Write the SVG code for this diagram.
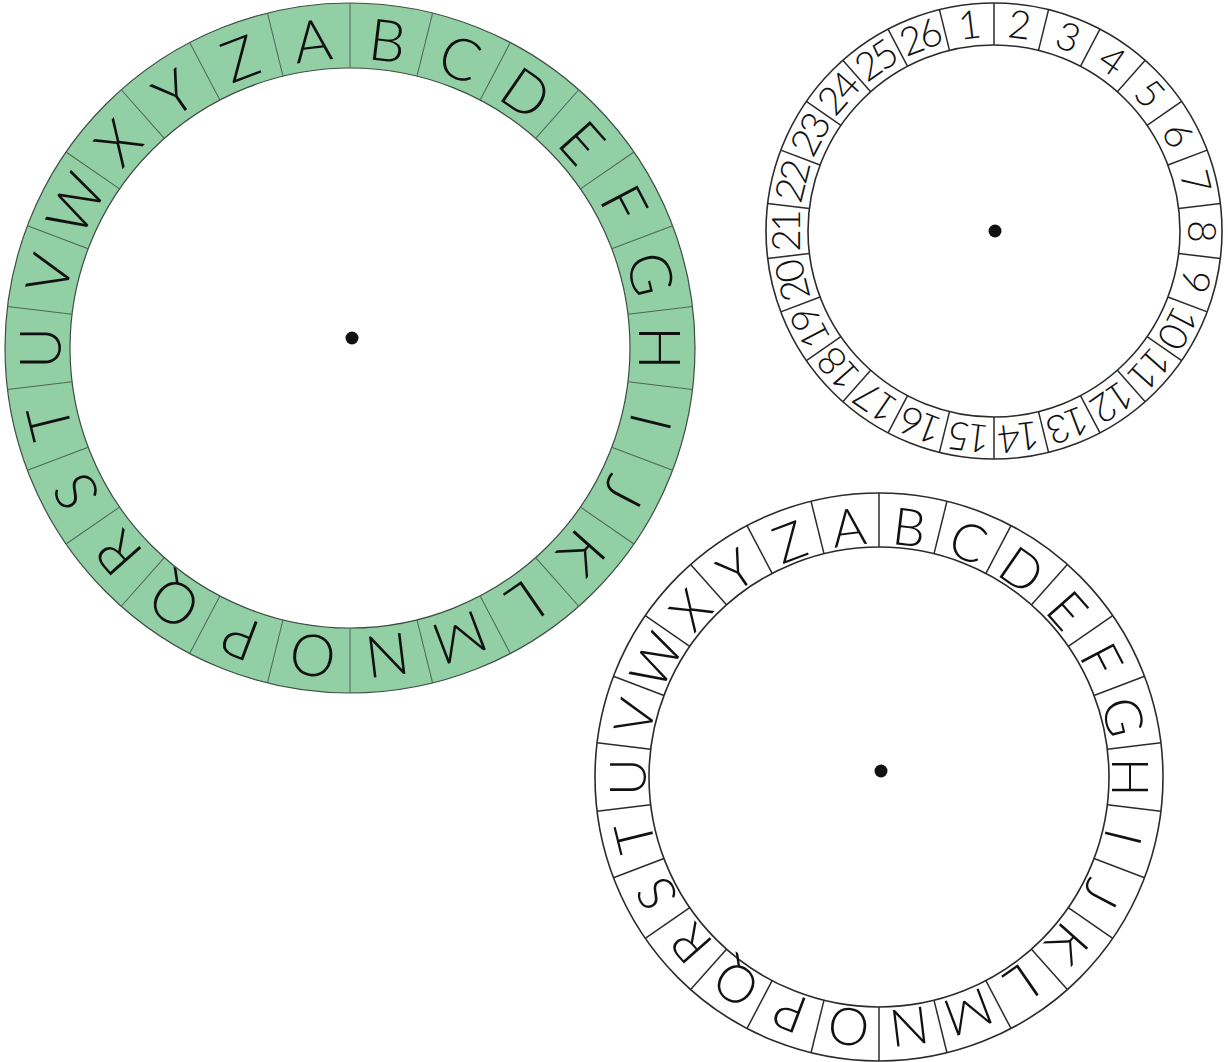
<svg xmlns="http://www.w3.org/2000/svg" xmlns:xlink="http://www.w3.org/1999/xlink" width="1228" height="1062" viewBox="0 0 1228 1062">
<style>
.gring{fill:#93cfa5;stroke:#3d4f43;stroke-width:1.2}
.ginner{fill:#ffffff;stroke:#3d4f43;stroke-width:1.2}
.gtick{stroke:#4d6656;stroke-width:1}
.wring{fill:#ffffff;stroke:#2b2b2b;stroke-width:1.6}
.wtick{stroke:#2b2b2b;stroke-width:1.5}
.lbl{font-family:Lato,"Open Sans","Noto Sans",sans-serif;font-weight:300;fill:#111111;text-anchor:middle}
.g{font-size:58px}
.b{font-size:52px}
.n{font-size:39px;letter-spacing:-3px}
.dot{fill:#111111}
</style>
<defs>
<line id="tg" class="gtick" x1="0" y1="-280" x2="0" y2="-345"/>
<line id="tb" class="wtick" x1="0" y1="-230" x2="0" y2="-284"/>
<line id="tn" class="wtick" x1="0" y1="-186" x2="0" y2="-228"/>
</defs>

<g id="green-wheel">
<g transform="translate(350,348)">
<circle class="gring" r="345"/>
<circle class="ginner" r="280"/>
<use xlink:href="#tg"/>
<use xlink:href="#tg" transform="rotate(13.846)"/>
<use xlink:href="#tg" transform="rotate(27.692)"/>
<use xlink:href="#tg" transform="rotate(41.538)"/>
<use xlink:href="#tg" transform="rotate(55.385)"/>
<use xlink:href="#tg" transform="rotate(69.231)"/>
<use xlink:href="#tg" transform="rotate(83.077)"/>
<use xlink:href="#tg" transform="rotate(96.923)"/>
<use xlink:href="#tg" transform="rotate(110.769)"/>
<use xlink:href="#tg" transform="rotate(124.615)"/>
<use xlink:href="#tg" transform="rotate(138.462)"/>
<use xlink:href="#tg" transform="rotate(152.308)"/>
<use xlink:href="#tg" transform="rotate(166.154)"/>
<use xlink:href="#tg" transform="rotate(180)"/>
<use xlink:href="#tg" transform="rotate(193.846)"/>
<use xlink:href="#tg" transform="rotate(207.692)"/>
<use xlink:href="#tg" transform="rotate(221.538)"/>
<use xlink:href="#tg" transform="rotate(235.385)"/>
<use xlink:href="#tg" transform="rotate(249.231)"/>
<use xlink:href="#tg" transform="rotate(263.077)"/>
<use xlink:href="#tg" transform="rotate(276.923)"/>
<use xlink:href="#tg" transform="rotate(290.769)"/>
<use xlink:href="#tg" transform="rotate(304.615)"/>
<use xlink:href="#tg" transform="rotate(318.462)"/>
<use xlink:href="#tg" transform="rotate(332.308)"/>
<use xlink:href="#tg" transform="rotate(346.154)"/>
<g class="lbl g">
<text y="-289" transform="rotate(-6.923)">A</text>
<text y="-289" transform="rotate(6.923)">B</text>
<text y="-289" transform="rotate(20.769)">C</text>
<text y="-289" transform="rotate(34.615)">D</text>
<text y="-289" transform="rotate(48.462)">E</text>
<text y="-289" transform="rotate(62.308)">F</text>
<text y="-289" transform="rotate(76.154)">G</text>
<text y="-289" transform="rotate(90)">H</text>
<text y="-289" transform="rotate(103.846)">I</text>
<text y="-289" transform="rotate(117.692)">J</text>
<text y="-289" transform="rotate(131.538)">K</text>
<text y="-289" transform="rotate(145.385)">L</text>
<text y="-289" transform="rotate(159.231)">M</text>
<text y="-289" transform="rotate(173.077)">N</text>
<text y="-289" transform="rotate(186.923)">O</text>
<text y="-289" transform="rotate(200.769)">P</text>
<text y="-289" transform="rotate(214.615)">Q</text>
<text y="-289" transform="rotate(228.462)">R</text>
<text y="-289" transform="rotate(242.308)">S</text>
<text y="-289" transform="rotate(256.154)">T</text>
<text y="-289" transform="rotate(270)">U</text>
<text y="-289" transform="rotate(283.846)">V</text>
<text y="-289" transform="rotate(297.692)">W</text>
<text y="-289" transform="rotate(311.538)">X</text>
<text y="-289" transform="rotate(325.385)">Y</text>
<text y="-289" transform="rotate(339.231)">Z</text>
</g>
</g>
<circle class="dot" cx="352" cy="338" r="6.5"/>
</g>

<g id="number-wheel">
<g transform="translate(994,231)">
<circle class="wring" r="228"/>
<circle class="wring" r="186"/>
<use xlink:href="#tn"/>
<use xlink:href="#tn" transform="rotate(13.846)"/>
<use xlink:href="#tn" transform="rotate(27.692)"/>
<use xlink:href="#tn" transform="rotate(41.538)"/>
<use xlink:href="#tn" transform="rotate(55.385)"/>
<use xlink:href="#tn" transform="rotate(69.231)"/>
<use xlink:href="#tn" transform="rotate(83.077)"/>
<use xlink:href="#tn" transform="rotate(96.923)"/>
<use xlink:href="#tn" transform="rotate(110.769)"/>
<use xlink:href="#tn" transform="rotate(124.615)"/>
<use xlink:href="#tn" transform="rotate(138.462)"/>
<use xlink:href="#tn" transform="rotate(152.308)"/>
<use xlink:href="#tn" transform="rotate(166.154)"/>
<use xlink:href="#tn" transform="rotate(180)"/>
<use xlink:href="#tn" transform="rotate(193.846)"/>
<use xlink:href="#tn" transform="rotate(207.692)"/>
<use xlink:href="#tn" transform="rotate(221.538)"/>
<use xlink:href="#tn" transform="rotate(235.385)"/>
<use xlink:href="#tn" transform="rotate(249.231)"/>
<use xlink:href="#tn" transform="rotate(263.077)"/>
<use xlink:href="#tn" transform="rotate(276.923)"/>
<use xlink:href="#tn" transform="rotate(290.769)"/>
<use xlink:href="#tn" transform="rotate(304.615)"/>
<use xlink:href="#tn" transform="rotate(318.462)"/>
<use xlink:href="#tn" transform="rotate(332.308)"/>
<use xlink:href="#tn" transform="rotate(346.154)"/>
<g class="lbl n">
<text x="-1" y="-194" transform="rotate(-6.923)">1</text>
<text x="-1" y="-194" transform="rotate(6.923)">2</text>
<text x="-1" y="-194" transform="rotate(20.769)">3</text>
<text x="-1" y="-194" transform="rotate(34.615)">4</text>
<text x="-1" y="-194" transform="rotate(48.462)">5</text>
<text x="-1" y="-194" transform="rotate(62.308)">6</text>
<text x="-1" y="-194" transform="rotate(76.154)">7</text>
<text x="-1" y="-194" transform="rotate(90)">8</text>
<text x="-1" y="-194" transform="rotate(103.846)">9</text>
<text x="-1" y="-194" transform="rotate(117.692)">10</text>
<text x="-1" y="-194" transform="rotate(131.538)">11</text>
<text x="-1" y="-194" transform="rotate(145.385)">12</text>
<text x="-1" y="-194" transform="rotate(159.231)">13</text>
<text x="-1" y="-194" transform="rotate(173.077)">14</text>
<text x="-1" y="-194" transform="rotate(186.923)">15</text>
<text x="-1" y="-194" transform="rotate(200.769)">16</text>
<text x="-1" y="-194" transform="rotate(214.615)">17</text>
<text x="-1" y="-194" transform="rotate(228.462)">18</text>
<text x="-1" y="-194" transform="rotate(242.308)">19</text>
<text x="-1" y="-194" transform="rotate(256.154)">20</text>
<text x="-1" y="-194" transform="rotate(270)">21</text>
<text x="-1" y="-194" transform="rotate(283.846)">22</text>
<text x="-1" y="-194" transform="rotate(297.692)">23</text>
<text x="-1" y="-194" transform="rotate(311.538)">24</text>
<text x="-1" y="-194" transform="rotate(325.385)">25</text>
<text x="-1" y="-194" transform="rotate(339.231)">26</text>
</g>
</g>
<circle class="dot" cx="995" cy="231" r="6.5"/>
</g>

<g id="white-letter-wheel">
<g transform="translate(879,777)">
<circle class="wring" r="284"/>
<circle class="wring" r="230"/>
<use xlink:href="#tb"/>
<use xlink:href="#tb" transform="rotate(13.846)"/>
<use xlink:href="#tb" transform="rotate(27.692)"/>
<use xlink:href="#tb" transform="rotate(41.538)"/>
<use xlink:href="#tb" transform="rotate(55.385)"/>
<use xlink:href="#tb" transform="rotate(69.231)"/>
<use xlink:href="#tb" transform="rotate(83.077)"/>
<use xlink:href="#tb" transform="rotate(96.923)"/>
<use xlink:href="#tb" transform="rotate(110.769)"/>
<use xlink:href="#tb" transform="rotate(124.615)"/>
<use xlink:href="#tb" transform="rotate(138.462)"/>
<use xlink:href="#tb" transform="rotate(152.308)"/>
<use xlink:href="#tb" transform="rotate(166.154)"/>
<use xlink:href="#tb" transform="rotate(180)"/>
<use xlink:href="#tb" transform="rotate(193.846)"/>
<use xlink:href="#tb" transform="rotate(207.692)"/>
<use xlink:href="#tb" transform="rotate(221.538)"/>
<use xlink:href="#tb" transform="rotate(235.385)"/>
<use xlink:href="#tb" transform="rotate(249.231)"/>
<use xlink:href="#tb" transform="rotate(263.077)"/>
<use xlink:href="#tb" transform="rotate(276.923)"/>
<use xlink:href="#tb" transform="rotate(290.769)"/>
<use xlink:href="#tb" transform="rotate(304.615)"/>
<use xlink:href="#tb" transform="rotate(318.462)"/>
<use xlink:href="#tb" transform="rotate(332.308)"/>
<use xlink:href="#tb" transform="rotate(346.154)"/>
<g class="lbl b">
<text y="-233" transform="rotate(-6.923)">A</text>
<text y="-233" transform="rotate(6.923)">B</text>
<text y="-233" transform="rotate(20.769)">C</text>
<text y="-233" transform="rotate(34.615)">D</text>
<text y="-233" transform="rotate(48.462)">E</text>
<text y="-233" transform="rotate(62.308)">F</text>
<text y="-233" transform="rotate(76.154)">G</text>
<text y="-233" transform="rotate(90)">H</text>
<text y="-233" transform="rotate(103.846)">I</text>
<text y="-233" transform="rotate(117.692)">J</text>
<text y="-233" transform="rotate(131.538)">K</text>
<text y="-233" transform="rotate(145.385)">L</text>
<text y="-233" transform="rotate(159.231)">M</text>
<text y="-233" transform="rotate(173.077)">N</text>
<text y="-233" transform="rotate(186.923)">O</text>
<text y="-233" transform="rotate(200.769)">P</text>
<text y="-233" transform="rotate(214.615)">Q</text>
<text y="-233" transform="rotate(228.462)">R</text>
<text y="-233" transform="rotate(242.308)">S</text>
<text y="-233" transform="rotate(256.154)">T</text>
<text y="-233" transform="rotate(270)">U</text>
<text y="-233" transform="rotate(283.846)">V</text>
<text y="-233" transform="rotate(297.692)">W</text>
<text y="-233" transform="rotate(311.538)">X</text>
<text y="-233" transform="rotate(325.385)">Y</text>
<text y="-233" transform="rotate(339.231)">Z</text>
</g>
</g>
<circle class="dot" cx="881" cy="771" r="6.5"/>
</g>
</svg>
